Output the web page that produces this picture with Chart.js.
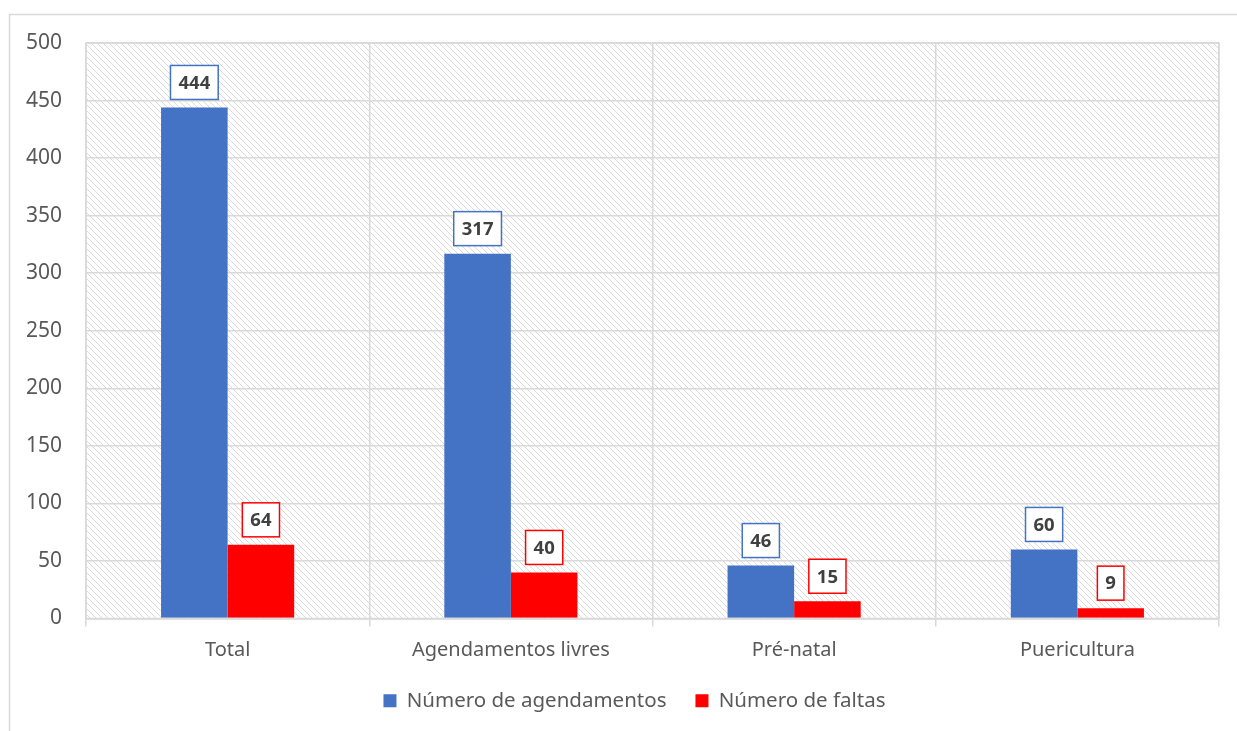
<!DOCTYPE html>
<html>
<head>
<meta charset="utf-8">
<script src="https://cdn.jsdelivr.net/npm/chart.js@4"></script>
<style>
  html, body { margin: 0; padding: 0; background: #fff; }
  #wrap { width: 1237px; height: 731px; position: relative; }
</style>
</head>
<body>
<div id="wrap"><canvas id="chart" width="1237" height="731"></canvas></div>
<script>
// chart data
const categories = ['Total', 'Agendamentos livres', 'Pré-natal', 'Puericultura'];
const agendamentos = [444, 317, 46, 60];
const faltas = [64, 40, 15, 9];
const yTicks = [0, 50, 100, 150, 200, 250, 300, 350, 400, 450, 500];

const FONT = '"Noto Sans", "Open Sans", sans-serif';
const BLUE = '#4472C4';
const RED = '#FF0000';
const GRID = '#d9d9d9';

// diagonal hatch for the plot area
function makeHatch() {
    const s = 6;
    const c = document.createElement('canvas');
    c.width = s; c.height = s;
    const g = c.getContext('2d');
    g.strokeStyle = '#dadada';
    g.lineWidth = 1;
    g.beginPath();
    g.moveTo(0, 0); g.lineTo(s, s);
    g.moveTo(-1, s - 1); g.lineTo(1, s + 1);
    g.moveTo(s - 1, -1); g.lineTo(s + 1, 1);
    g.stroke();
    return g.createPattern(c, 'repeat');
}

const backgroundPlugin = {
    id: 'plotBackground',
    afterLayout(chart) {
        // legend in the reference sits a little right of the canvas centre
        if (chart.legend) {
            chart.legend.left += 25;
            chart.legend.right += 25;
        }
    },
    beforeDraw(chart) {
        const ctx = chart.ctx;
        const a = chart.chartArea;
        ctx.save();
        // outer chart border (top and left visible)
        ctx.strokeStyle = GRID;
        ctx.lineWidth = 1.5;
        ctx.beginPath();
        ctx.moveTo(9.5, 731);
        ctx.lineTo(9.5, 14.5);
        ctx.lineTo(1237, 14.5);
        ctx.stroke();
        ctx.fillStyle = makeHatch();
        ctx.fillRect(a.left, a.top, a.right - a.left, a.bottom - a.top);
        ctx.restore();
    },
    afterDatasetsDraw(chart) {
        const ctx = chart.ctx;
        const a = chart.chartArea;
        ctx.save();
        ctx.strokeStyle = GRID;
        ctx.lineWidth = 1.5;
        ctx.strokeRect(a.left, a.top, a.right - a.left, a.bottom - a.top);
        ctx.restore();
    }
};

// boxed value labels above each bar
const labelPlugin = {
    id: 'boxLabels',
    afterDatasetsDraw(chart) {
        const ctx = chart.ctx;
        ctx.save();
        ctx.font = 'bold 18.5px ' + FONT;
        ctx.textAlign = 'center';
        ctx.textBaseline = 'middle';
        chart.data.datasets.forEach((ds, i) => {
            const meta = chart.getDatasetMeta(i);
            meta.data.forEach((bar, j) => {
                const text = String(ds.data[j]);
                const w = ctx.measureText(text).width + 16;
                const h = 34;
                const x = bar.x - w / 2;
                const y = bar.y - 8 - h;
                ctx.fillStyle = '#fff';
                ctx.fillRect(x, y, w, h);
                ctx.strokeStyle = ds.backgroundColor;
                ctx.lineWidth = 1.5;
                ctx.strokeRect(x, y, w, h);
                ctx.fillStyle = '#404040';
                ctx.fillText(text, bar.x, y + h / 2 + 1);
            });
        });
        ctx.restore();
    }
};

new Chart(document.getElementById('chart'), {
    type: 'bar',
    data: {
        labels: categories,
        datasets: [
            {
                label: 'Número de agendamentos',
                data: agendamentos,
                backgroundColor: BLUE
            },
            {
                label: 'Número de faltas',
                data: faltas,
                backgroundColor: RED
            }
        ]
    },
    options: {
        responsive: false,
        animation: false,
        layout: { padding: { left: 0, top: 43, right: 18, bottom: 10 } },
        datasets: {
            bar: { categoryPercentage: 0.47, barPercentage: 1.0 }
        },
        scales: {
            x: {
                grid: { color: GRID, lineWidth: 1.5, offset: true, tickLength: 8 },
                border: { color: GRID, width: 1.5 },
                ticks: { color: '#595959', font: { family: FONT, size: 20 }, padding: 12 },
                afterFit(scale) { scale.height = 43; }
            },
            y: {
                min: 0,
                max: 500,
                afterBuildTicks(scale) { scale.ticks = yTicks.map(v => ({ value: v })); },
                grid: { color: GRID, lineWidth: 1.5, drawTicks: false },
                border: { display: false },
                ticks: { color: '#595959', font: { family: FONT, size: 21 }, padding: 24 },
                afterFit(scale) { scale.width = 86; }
            }
        },
        plugins: {
            legend: {
                position: 'bottom',
                labels: {
                    color: '#595959',
                    font: { family: FONT, size: 20.5 },
                    boxWidth: 13,
                    boxHeight: 13,
                    padding: 29
                }
            },
            tooltip: { enabled: false }
        }
    },
    plugins: [backgroundPlugin, labelPlugin]
});
</script>
</body>
</html>
